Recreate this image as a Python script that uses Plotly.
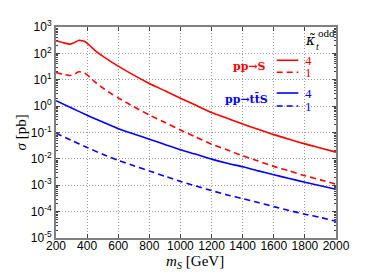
import plotly.graph_objects as go

# Data
m_S = [200, 250, 290, 320, 345, 370, 390, 420, 450, 500, 550, 600, 700, 800, 900,
       1000, 1100, 1200, 1300, 1400, 1500, 1600, 1700, 1800, 1900, 2000]

sigma_S_k4 = [300, 250, 225, 260, 310, 300, 270, 190, 130, 78, 50, 33, 15, 7.2, 3.85,
              2.0, 1.07, 0.57, 0.35, 0.21, 0.133, 0.083, 0.055, 0.037, 0.026, 0.018]
sigma_S_k1 = [19, 16, 14.5, 16.5, 20, 19, 17, 12, 8.3, 4.9, 3.1, 2.05, 0.95, 0.46, 0.24,
              0.125, 0.067, 0.036, 0.022, 0.013, 0.0083, 0.0052, 0.0035, 0.0023, 0.0016, 0.0011]

m_ttS = [200, 300, 400, 500, 600, 700, 800, 900, 1000, 1100, 1200, 1300, 1400,
         1500, 1600, 1700, 1800, 1900, 2000]
sigma_ttS_k4 = [1.6, 0.85, 0.45, 0.25, 0.14, 0.088, 0.056, 0.035, 0.022, 0.015, 0.0098,
                0.0068, 0.005, 0.0035, 0.0025, 0.0018, 0.0013, 0.00095, 0.0007]
sigma_ttS_k1 = [0.095, 0.05, 0.027, 0.015, 0.0088, 0.0055, 0.0035, 0.0022, 0.0014, 0.00093,
                0.00063, 0.00043, 0.00031, 0.00022, 0.000155, 0.00011, 0.00008, 0.00006, 0.000043]

x_ticks = [200, 400, 600, 800, 1000, 1200, 1400, 1600, 1800, 2000]
y_tickvals = [1e3, 1e2, 1e1, 1e0, 1e-1, 1e-2, 1e-3, 1e-4, 1e-5]
y_ticktext = ["10<sup>3</sup>", "10<sup>2</sup>", "10<sup>1</sup>", "10<sup>0</sup>",
              "10<sup>-1</sup>", "10<sup>-2</sup>", "10<sup>-3</sup>", "10<sup>-4</sup>",
              "10<sup>-5</sup>"]

RED = "#ff0000"
BLUE = "#0000ff"
DASH = "6px,4px"
LW = 1.6

fig = go.Figure()
fig.add_trace(go.Scatter(x=m_S, y=sigma_S_k4, mode="lines", line=dict(color=RED, width=LW, shape="spline", smoothing=0.6)))
fig.add_trace(go.Scatter(x=m_S, y=sigma_S_k1, mode="lines", line=dict(color=RED, width=LW, dash=DASH, shape="spline", smoothing=0.6)))
fig.add_trace(go.Scatter(x=m_ttS, y=sigma_ttS_k4, mode="lines", line=dict(color=BLUE, width=LW, shape="spline", smoothing=0.6)))
fig.add_trace(go.Scatter(x=m_ttS, y=sigma_ttS_k1, mode="lines", line=dict(color=BLUE, width=LW, dash=DASH, shape="spline", smoothing=0.6)))

SERIF = "DejaVu Serif"
SERIF2 = "Liberation Serif"
SANS = "Liberation Sans"

# Custom legend (samples + labels), placed in paper coordinates
L, T, W, H = 56, 27, 280, 211
def px(xp):
    return (xp - L) / W
def py(yp):
    return 1 - (yp - T) / H

legend_rows = [
    (60.3, RED, None, "4"),
    (72.3, RED, DASH, "1"),
    (93.0, BLUE, None, "4"),
    (106.0, BLUE, DASH, "1"),
]
shapes = []
annotations = []
for yy, col, dash, lab in legend_rows:
    shapes.append(dict(type="line", xref="paper", yref="paper",
                       x0=px(276.7), x1=px(298.3), y0=py(yy), y1=py(yy),
                       line=dict(color=col, width=LW, dash=dash if dash else "solid")))
    annotations.append(dict(xref="paper", yref="paper", x=px(308.5), y=py(yy), text=lab,
                            showarrow=False, xanchor="center", yanchor="middle",
                            font=dict(family=SERIF2, size=13, color=col)))

annotations.append(dict(xref="paper", yref="paper", x=px(268), y=py(66), text="<b>pp→S</b>",
                        showarrow=False, xanchor="right", yanchor="middle",
                        font=dict(family=SERIF, size=11, color=RED)))
annotations.append(dict(xref="paper", yref="paper", x=px(269.5), y=py(99.3), text="<b>pp→tt̄S</b>",
                        showarrow=False, xanchor="right", yanchor="middle",
                        font=dict(family=SERIF, size=11, color=BLUE)))
# legend header  kappa-tilde_t^odd
annotations.append(dict(xref="paper", yref="paper", x=px(309.5), y=py(40), text="<i>κ̃</i>",
                        showarrow=False, xanchor="center", yanchor="middle",
                        font=dict(family=SERIF, size=14, color="black")))
annotations.append(dict(xref="paper", yref="paper", x=px(326), y=py(33), text="odd",
                        showarrow=False, xanchor="center", yanchor="middle",
                        font=dict(family=SERIF2, size=11, color="black")))
annotations.append(dict(xref="paper", yref="paper", x=px(317), y=py(46), text="<i>t</i>",
                        showarrow=False, xanchor="center", yanchor="middle",
                        font=dict(family=SERIF2, size=10, color="black")))
# axis titles
annotations.append(dict(xref="paper", yref="paper", x=px(195), y=py(262), text="<i>m</i><sub><i>S</i></sub> [GeV]",
                        showarrow=False, xanchor="center", yanchor="middle",
                        font=dict(family=SERIF2, size=15, color="black")))
annotations.append(dict(xref="paper", yref="paper", x=px(20), y=py(132.5), text="<i>σ</i> [pb]",
                        showarrow=False, xanchor="center", yanchor="middle", textangle=-90,
                        font=dict(family=SERIF2, size=15, color="black")))

AXC = "#808080"
fig.update_layout(
    width=374, height=280,
    margin=dict(l=L, r=374 - L - W, t=T, b=280 - T - H),
    paper_bgcolor="white", plot_bgcolor="white",
    showlegend=False,
    shapes=shapes, annotations=annotations,
    font=dict(family=SANS, size=12, color="black"),
    xaxis=dict(range=[200, 2000], tickvals=x_ticks, ticks="inside", ticklen=4, tickcolor="#444",
               showline=True, linecolor=AXC, linewidth=2, mirror="ticks",
               showgrid=True, gridcolor="#999", griddash="1px,2px", gridwidth=1,
               zeroline=False, tickfont=dict(family=SANS, size=12), ticklabelstandoff=-4),
    yaxis=dict(type="log", range=[-5, 3], tickvals=y_tickvals, ticktext=y_ticktext,
               ticks="inside", ticklen=4, tickcolor="#444",
               showline=True, linecolor=AXC, linewidth=2, mirror="ticks",
               showgrid=True, gridcolor="#999", griddash="1px,2px", gridwidth=1,
               zeroline=False, tickfont=dict(family=SANS, size=12),
               minor=dict(ticks="inside", ticklen=2, tickcolor="#444", dtick="D1", showgrid=False)),
)

fig.write_html("out.html", config={"displayModeBar": False},
               post_script="document.body.style.margin='0';document.body.style.padding='0';")
